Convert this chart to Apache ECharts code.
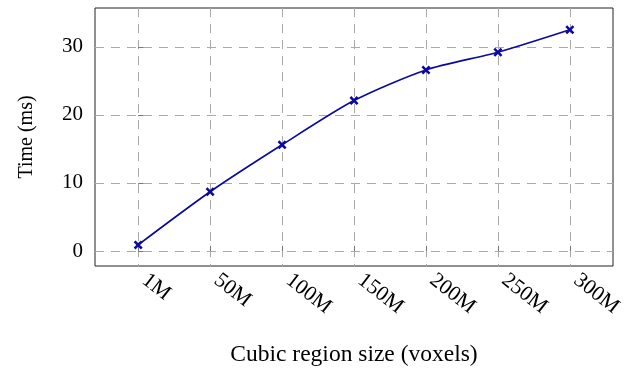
<!DOCTYPE html>
<html>
<head>
<meta charset="utf-8">
<script src="https://cdn.jsdelivr.net/npm/echarts@6/dist/echarts.min.js"></script>
<style>html,body{margin:0;padding:0;background:#fff}#c{width:635px;height:371px}</style>
</head>
<body>
<div id="c"></div>
<script>
const categories = ['1M', '50M', '100M', '150M', '200M', '250M', '300M'];
const timeMs = [0.9, 8.7, 15.6, 22.1, 26.6, 29.2, 32.5];
const yTicks = [0, 10, 20, 30];

const positions = categories.map((c, i) => i);
const seriesData = timeMs.map((v, i) => [positions[i], v]);
const font = 'Liberation Serif';
const chart = echarts.init(document.getElementById('c'), null, { width: 635, height: 371 });
chart.setOption({
  animation: false,
  grid: { left: 95, right: 22, top: 8, bottom: 105, show: true, borderColor: '#222', borderWidth: 1,
    containLabel: false, outerBoundsMode: 'none' },
  xAxis: {
    type: 'value', min: -0.6, max: 6.6,
    name: 'Cubic region size (voxels)', nameLocation: 'middle', nameGap: 77,
    nameTextStyle: { fontFamily: font, fontSize: 23.5, color: '#000' },
    axisLine: { show: false },
    axisTick: { show: true, inside: true, length: 5, lineStyle: { color: '#777' }, customValues: positions },
    axisLabel: { customValues: positions, rotate: -38, fontFamily: font, fontSize: 21.5, color: '#000', margin: 7,
      padding: [0, 0, 6, 8],
      formatter: v => categories[Math.round(v)] },
    splitLine: { show: true, lineStyle: { color: '#aaa', type: [9, 7], width: 1 } }
  },
  yAxis: {
    type: 'value', min: -2.2, max: 35.7,
    name: 'Time (ms)', nameLocation: 'middle', nameGap: 58, nameRotate: 90,
    nameTextStyle: { fontFamily: font, fontSize: 20, color: '#000' },
    axisLine: { show: false },
    axisTick: { show: true, inside: true, length: 5, lineStyle: { color: '#777' }, customValues: yTicks },
    axisLabel: { customValues: yTicks, fontFamily: font, fontSize: 21, color: '#000', margin: 12 },
    splitLine: { show: true, lineStyle: { color: '#aaa', type: [9, 7], width: 1 } }
  },
  series: [{
    type: 'line', data: seriesData, smooth: 0.25,
    lineStyle: { color: '#0a0aa0', width: 1.7 },
    symbol: 'path://M0,2L2,0L5,3L8,0L10,2L7,5L10,8L8,10L5,7L2,10L0,8L3,5Z',
    symbolSize: 9,
    itemStyle: { color: '#0a0aa0' }
  }]
});
</script>
</body>
</html>
